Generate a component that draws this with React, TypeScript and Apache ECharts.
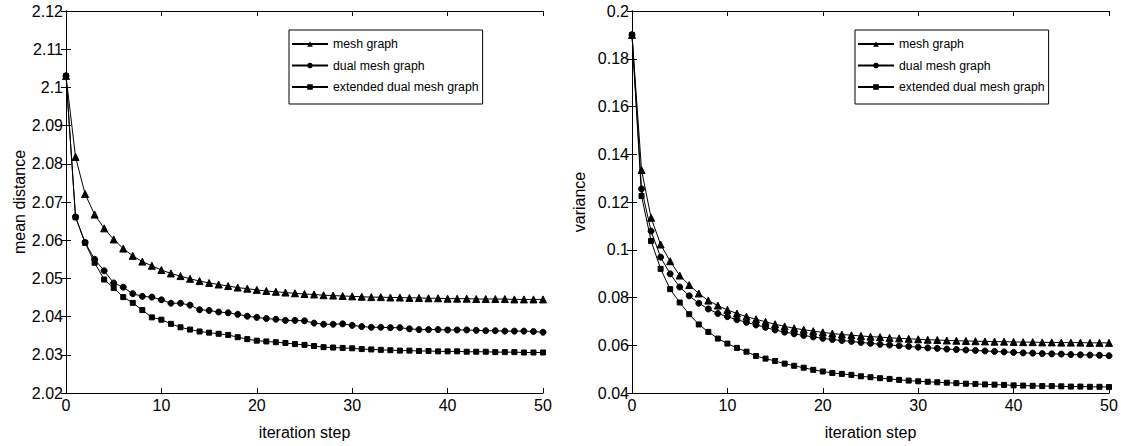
import React, { useEffect, useRef } from "react";
import * as echarts from "echarts";

const steps: number[] = Array.from({ length: 51 }, (_, i) => i);

const seriesNames = ["mesh graph", "dual mesh graph", "extended dual mesh graph"];

const meanMesh = [
  2.103, 2.0818, 2.0721, 2.0667, 2.0631, 2.0602, 2.0578, 2.0559, 2.0544, 2.0533,
  2.0522, 2.0513, 2.0506, 2.0499, 2.0493, 2.0488, 2.0484, 2.048, 2.0476, 2.0473,
  2.047, 2.0467, 2.0465, 2.0463, 2.0461, 2.0459, 2.0458, 2.0456, 2.0455, 2.0454,
  2.0453, 2.0452, 2.0451, 2.0451, 2.045, 2.045, 2.0449, 2.0449, 2.0448, 2.0448,
  2.0447, 2.0447, 2.0447, 2.0446, 2.0446, 2.0446, 2.0446, 2.0445, 2.0445, 2.0445,
  2.0445,
];
const meanDual = [
  2.103, 2.0661, 2.0594, 2.055, 2.052, 2.0488, 2.0477, 2.046, 2.0453, 2.0451,
  2.0444, 2.0435, 2.0435, 2.043, 2.0418, 2.0416, 2.0412, 2.041, 2.0406, 2.0401,
  2.0398, 2.0395, 2.0393, 2.039, 2.039, 2.0389, 2.0383, 2.038, 2.038, 2.0381,
  2.0377, 2.0374, 2.0372, 2.0372, 2.0371, 2.0371, 2.0368, 2.0366, 2.0366, 2.0366,
  2.0365, 2.0365, 2.0365, 2.0364, 2.0363, 2.0363, 2.0362, 2.0362, 2.0362, 2.0361,
  2.0359,
];
const meanExt = [
  2.103, 2.066, 2.0593, 2.0541, 2.0497, 2.0475, 2.0451, 2.0436, 2.0417, 2.0398,
  2.0392, 2.0381, 2.0372, 2.0366, 2.0361, 2.0358, 2.0355, 2.0352, 2.0346, 2.0341,
  2.0337, 2.0335, 2.0333, 2.0331, 2.0328, 2.0326, 2.0323, 2.032, 2.0319, 2.0318,
  2.0317, 2.0315, 2.0314, 2.0313, 2.0312, 2.0311, 2.0311, 2.031, 2.031, 2.0309,
  2.0309, 2.0309, 2.0308, 2.0308, 2.0308, 2.0307, 2.0307, 2.0307, 2.0306, 2.0306,
  2.0306,
];

const varMesh = [
  0.19, 0.1334, 0.1134, 0.1022, 0.0952, 0.0892, 0.0852, 0.0817, 0.0787, 0.0766,
  0.0748, 0.0733, 0.072, 0.0709, 0.0698, 0.0688, 0.0679, 0.0671, 0.0665, 0.0659,
  0.0654, 0.0649, 0.0645, 0.0642, 0.0639, 0.0636, 0.0634, 0.0631, 0.0629, 0.0627,
  0.0625, 0.0623, 0.0622, 0.062, 0.0619, 0.0618, 0.0617, 0.0616, 0.0615, 0.0615,
  0.0614, 0.0613, 0.0613, 0.0612, 0.0612, 0.0611, 0.0611, 0.0611, 0.061, 0.061,
  0.061,
];
const varDual = [
  0.19, 0.1255, 0.1078, 0.0969, 0.0899, 0.0844, 0.0807, 0.0776, 0.0752, 0.0733,
  0.072, 0.0707, 0.0696, 0.0685, 0.0675, 0.0664, 0.0655, 0.0648, 0.0641, 0.0635,
  0.0629, 0.0624, 0.062, 0.0616, 0.0612, 0.0608, 0.0604, 0.0601, 0.0598, 0.0595,
  0.0592, 0.0589, 0.0587, 0.0584, 0.0582, 0.058, 0.0578, 0.0576, 0.0574, 0.0572,
  0.057, 0.0568, 0.0567, 0.0565, 0.0564, 0.0563, 0.0561, 0.056, 0.0559, 0.0558,
  0.0556,
];
const varExt = [
  0.19, 0.1225, 0.1037, 0.092, 0.0835, 0.0779, 0.073, 0.0687, 0.0656, 0.0628,
  0.0607, 0.0589, 0.0573, 0.0555, 0.0544, 0.0534, 0.0523, 0.0514, 0.0506, 0.0497,
  0.049, 0.0484, 0.048, 0.0476, 0.047, 0.0466, 0.0462, 0.0459, 0.0455, 0.0452,
  0.0449, 0.0447, 0.0445, 0.0443, 0.0441, 0.0439, 0.0438, 0.0436, 0.0435, 0.0434,
  0.0432, 0.0431, 0.043, 0.0429, 0.0429, 0.0428, 0.0427, 0.0427, 0.0426, 0.0426,
  0.0425,
];

const xTicks = [0, 10, 20, 30, 40, 50];
const leftYTicks = [2.02, 2.03, 2.04, 2.05, 2.06, 2.07, 2.08, 2.09, 2.1, 2.11, 2.12];
const rightYTicks = [0.04, 0.06, 0.08, 0.1, 0.12, 0.14, 0.16, 0.18, 0.2];

const FONT = "'Liberation Sans', Arial, Helvetica, sans-serif";
const symbols = ["triangle", "circle", "rect"];
const symbolSizes = [7, 6, 5];

function fmt(v: number): string {
  return String(parseFloat(v.toFixed(4)));
}

export default function App() {
  const ref = useRef<HTMLDivElement>(null);

  useEffect(() => {
    if (!ref.current) return;
    const chart = echarts.init(ref.current, undefined, { renderer: "svg" });

    const grids = [
      { left: 66, top: 11, width: 477, height: 382 },
      { left: 632, top: 11, width: 477, height: 382 },
    ];

    const axisCommon = {
      axisLine: { show: true, lineStyle: { color: "#000", width: 1 } },
      axisTick: { show: true, inside: true, length: 5, lineStyle: { color: "#000" } },
      splitLine: { show: false },
    };

    const xAxes: any[] = [];
    const yAxes: any[] = [];
    [0, 1].forEach((g) => {
      xAxes.push({
        ...axisCommon,
        type: "value",
        gridIndex: g,
        min: xTicks[0],
        max: xTicks[xTicks.length - 1],
        interval: 10,
        position: "bottom",
        name: "iteration step",
        nameLocation: "middle",
        nameGap: 31,
        nameTextStyle: { color: "#000", fontSize: 16, fontFamily: FONT },
        axisLabel: { color: "#000", fontSize: 16, fontFamily: FONT, margin: 4 },
      });
      xAxes.push({
        ...axisCommon,
        type: "value",
        gridIndex: g,
        min: xTicks[0],
        max: xTicks[xTicks.length - 1],
        interval: 10,
        position: "top",
        axisLabel: { show: false },
      });
    });
    const yDefs = [
      { ticks: leftYTicks, interval: 0.01, name: "mean distance" },
      { ticks: rightYTicks, interval: 0.02, name: "variance" },
    ];
    yDefs.forEach((d, g) => {
      yAxes.push({
        ...axisCommon,
        type: "value",
        gridIndex: g,
        min: d.ticks[0],
        max: d.ticks[d.ticks.length - 1],
        interval: d.interval,
        position: "left",
        name: d.name,
        nameLocation: "middle",
        nameGap: g === 0 ? 37 : 45,
        nameTextStyle: { color: "#000", fontSize: 16, fontFamily: FONT },
        axisLabel: {
          color: "#000",
          fontSize: 16,
          fontFamily: FONT,
          margin: 3,
          formatter: (v: number) => fmt(v),
        },
      });
      yAxes.push({
        ...axisCommon,
        type: "value",
        gridIndex: g,
        min: d.ticks[0],
        max: d.ticks[d.ticks.length - 1],
        interval: d.interval,
        position: "right",
        axisLabel: { show: false },
      });
    });

    const leftData = [meanMesh, meanDual, meanExt];
    const rightData = [varMesh, varDual, varExt];

    const series: any[] = [];
    [leftData, rightData].forEach((group, g) => {
      group.forEach((arr, k) => {
        series.push({
          type: "line",
          name: seriesNames[k],
          xAxisIndex: g * 2,
          yAxisIndex: g * 2,
          data: arr.map((v, i) => [steps[i], v]),
          symbol: symbols[k],
          symbolSize: symbolSizes[k],
          showSymbol: true,
          lineStyle: { color: "#000", width: 1 },
          itemStyle: { color: "#000", borderColor: "#000" },
          emphasis: { disabled: true },
          silent: true,
        });
      });
    });

    const legendCommon = {
      orient: "vertical",
      top: 30,
      data: seriesNames,
      itemWidth: 36,
      itemHeight: 7,
      itemGap: 9.5,
      padding: [8, 4, 11, 2],
      borderColor: "#000",
      borderWidth: 1,
      backgroundColor: "#fff",
      selectedMode: false,
      textStyle: { color: "#000", fontSize: 12.3, fontFamily: FONT },
    };

    chart.setOption({
      animation: false,
      backgroundColor: "#fff",
      grid: grids.map((gr) => ({ ...gr, show: false })),
      xAxis: xAxes,
      yAxis: yAxes,
      legend: [
        { ...legendCommon, left: 289 },
        { ...legendCommon, left: 855 },
      ],
      series,
    });

    return () => chart.dispose();
  }, []);

  return (
    <div
      ref={ref}
      style={{ position: "fixed", left: 0, top: 0, width: 1121, height: 446 }}
    />
  );
}
